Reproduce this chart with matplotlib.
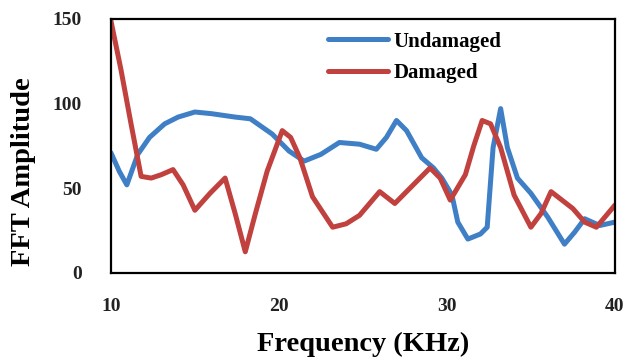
import numpy as np
import matplotlib
matplotlib.use('Agg')
import matplotlib.pyplot as plt

plt.rcParams['font.family'] = ['Liberation Serif', 'DejaVu Serif']
plt.rcParams['font.weight'] = 'bold'

# Undamaged (blue)
freq_undamaged = [10, 10.5, 10.95, 11.6, 12.3, 13.2, 14.0, 15.0, 16.0, 17.4, 18.3, 19.6,
                  20.6, 21.5, 22.5, 23.6, 24.8, 25.8, 26.4, 27.0, 27.6, 28.5, 29.2, 29.7,
                  30.3, 30.65, 31.25, 32.0, 32.4, 32.75, 33.2, 33.6, 34.2, 35.0, 36.0, 37.0,
                  37.6, 38.2, 39.1, 40]
amp_undamaged = [71, 60, 52, 70, 80, 88, 92, 95, 94, 92, 91, 82,
                 72, 66, 70, 77, 76, 73, 80, 90, 84, 68, 62, 56,
                 46, 30, 20, 23, 27, 74, 97, 74, 56, 47, 33, 17,
                 24, 32, 28, 30]

# Damaged (red)
freq_damaged = [10, 10.6, 11.2, 11.8, 12.4, 13.0, 13.7, 14.3, 15.0, 15.9, 16.8, 17.4,
                18.0, 18.6, 19.3, 20.2, 20.7, 21.25, 22.0, 23.2, 24.0, 24.8, 26.0, 26.9,
                28.0, 29.0, 29.6, 30.2, 31.1, 31.6, 32.1, 32.6, 33.2, 34.0, 35.0, 35.6,
                36.2, 37.5, 38.2, 38.9, 40]
amp_damaged = [149, 120, 88, 57, 56, 58, 61, 52, 37, 47, 56, 35,
               12.5, 35, 60, 84, 80, 68, 45, 27, 29, 34, 48, 41,
               52, 62, 56, 43, 58, 75, 90, 88, 74, 46, 27, 35,
               48, 38, 30, 27, 40]

fig = plt.figure(figsize=(6.3, 3.62), dpi=100)
ax = fig.add_axes([0.176, 0.246, 0.8, 0.702])

ax.plot(freq_undamaged, amp_undamaged, color='#3f7fc6', lw=3.6,
        solid_joinstyle='round', solid_capstyle='round', label='Undamaged')
ax.plot(freq_damaged, amp_damaged, color='#c0413e', lw=3.6,
        solid_joinstyle='round', solid_capstyle='round', label='Damaged')

ax.set_xlim(10, 40)
ax.set_ylim(0, 150)
ax.set_xticks([10, 20, 30, 40])
ax.set_yticks([0, 50, 100, 150])
ax.tick_params(axis='x', length=0, pad=18, labelsize=14)
ax.tick_params(axis='y', length=0, pad=21, labelsize=14)
for lbl in ax.get_xticklabels() + ax.get_yticklabels():
    lbl.set_fontweight('bold')
    lbl.set_color('#222222')

for sp in ax.spines.values():
    sp.set_linewidth(1.6)
    sp.set_color('black')

ax.set_xlabel('Frequency (KHz)', fontsize=20.5, fontweight='bold', labelpad=12)
ax.set_ylabel('FFT Amplitude', fontsize=20.5, fontweight='bold')
ax.yaxis.set_label_coords(-0.148, 0.40)

leg = ax.legend(loc='upper left', bbox_to_anchor=(0.43, 0.95), frameon=False,
                prop={'size': 15, 'weight': 'bold'}, handlelength=2.9,
                handletextpad=0.25, labelspacing=0.55, borderpad=0,
                borderaxespad=0)

fig.savefig('out.png', dpi=100)
